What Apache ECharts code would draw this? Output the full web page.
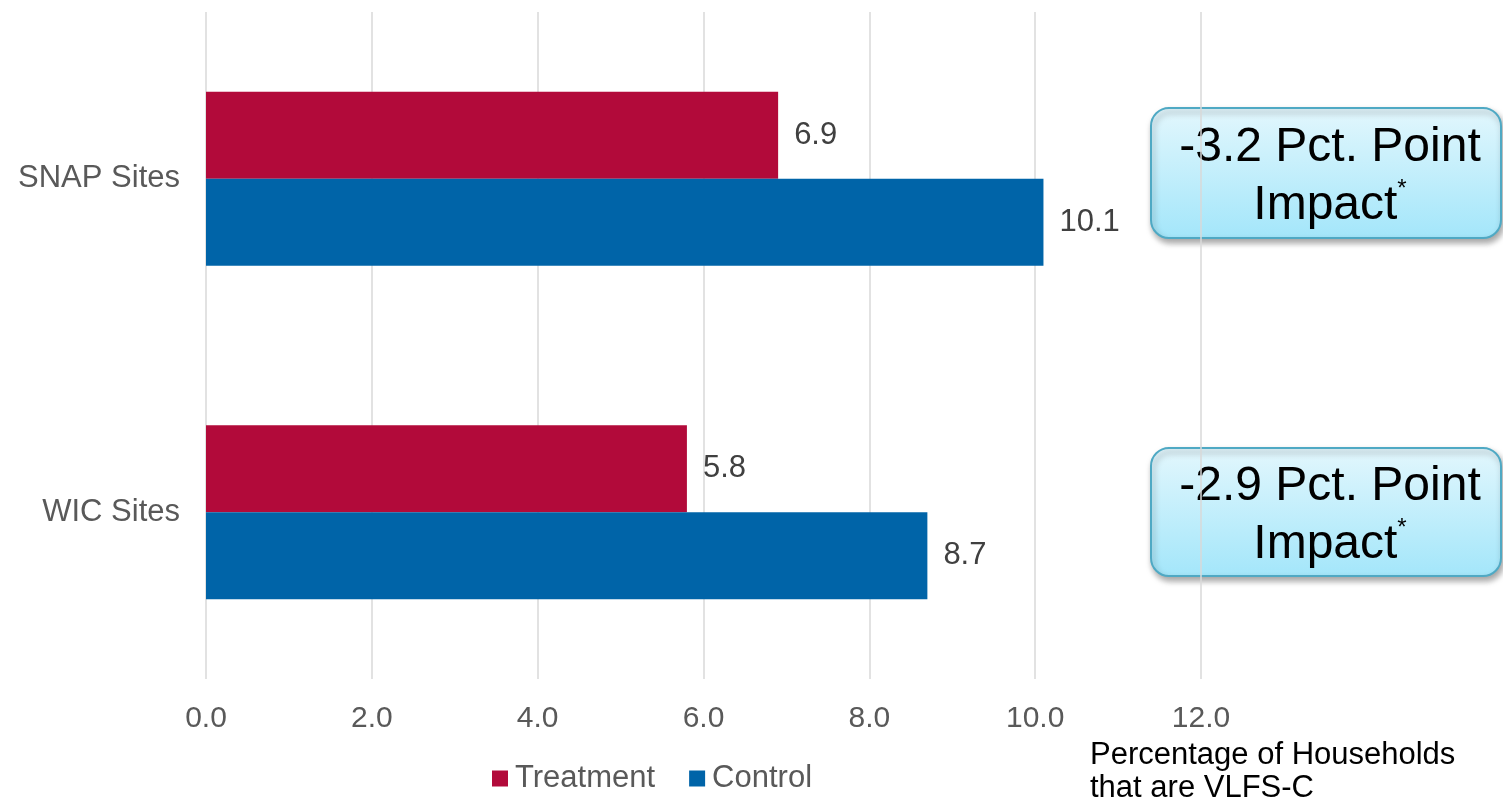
<!DOCTYPE html>
<html lang="en">
<head>
    <meta charset="UTF-8">
    <title>VLFS-C impact</title>
    <script src="https://cdn.jsdelivr.net/npm/echarts@6/dist/echarts.min.js"></script>
    <style>
        html, body { margin: 0; padding: 0; background: #fff; }
        #container { width: 1503px; height: 805px; }
    </style>
</head>
<body>
<div id="container"></div>
<script>
    var categories = ['SNAP Sites', 'WIC Sites'];
    var treatment = [6.9, 5.8];
    var control = [10.1, 8.7];
    var impacts = ['-3.2', '-2.9'];
    var xTicks = [0, 2, 4, 6, 8, 10, 12];

    var font = '"Liberation Sans", Arial, sans-serif';

    function callout(text, top, height) {
        return {
            type: 'group',
            left: 1150,
            top: top,
            children: [
                {
                    type: 'rect',
                    shape: { x: 0, y: 0, width: 350, height: height, r: 18 },
                    style: {
                        fill: new echarts.graphic.LinearGradient(0, 0, 0, 1, [
                            { offset: 0, color: '#e3f7fd' },
                            { offset: 1, color: '#a3e6fa' }
                        ]),
                        stroke: '#4fa9c4',
                        lineWidth: 2,
                        shadowBlur: 6,
                        shadowOffsetX: 2,
                        shadowOffsetY: 4,
                        shadowColor: 'rgba(0,0,0,0.35)'
                    }
                },
                {
                    type: 'text',
                    x: 179,
                    y: height / 2 + 4,
                    style: {
                        text: text + ' Pct. Point\n{m|Impact}{sup|*}',
                        fontFamily: font,
                        fontSize: 48,
                        lineHeight: 58,
                        fill: '#000',
                        align: 'center',
                        verticalAlign: 'middle',
                        rich: {
                            m: { fontSize: 48, fontFamily: font, color: '#000', lineHeight: 58 },
                            sup: { fontSize: 24, fontFamily: font, color: '#000', verticalAlign: 'top', lineHeight: 58 }
                        }
                    }
                }
            ]
        };
    }

    var myChart = echarts.init(document.getElementById('container'));
    myChart.setOption({
        animation: false,
        textStyle: { fontFamily: font },
        grid: { left: 206, right: 302, top: 12, bottom: 126 },
        legend: {
            left: 487,
            top: 758,
            itemWidth: 16,
            itemHeight: 16,
            itemGap: 34,
            icon: 'rect',
            textStyle: { fontSize: 31, color: '#595959', fontFamily: font, padding: [0, 0, 0, 2] },
            data: ['Treatment', 'Control']
        },
        xAxis: {
            type: 'value',
            min: xTicks[0],
            max: xTicks[xTicks.length - 1],
            interval: 2,
            axisLine: { show: false },
            axisTick: { show: false },
            axisLabel: {
                fontSize: 30,
                color: '#595959',
                margin: 25,
                formatter: function (v) { return v.toFixed(1); }
            },
            splitLine: { show: true, lineStyle: { color: '#d9d9d9', width: 1.5 } }
        },
        yAxis: {
            type: 'category',
            inverse: true,
            data: categories,
            axisLine: { show: false },
            axisTick: { show: false },
            axisLabel: { fontSize: 31, color: '#595959', margin: 26 }
        },
        series: [
            {
                name: 'Treatment',
                type: 'bar',
                data: treatment,
                barWidth: 87,
                barGap: '0%',
                itemStyle: { color: '#b20a3a' },
                label: { show: true, position: 'right', distance: 16, fontSize: 31, color: '#404040',
                    formatter: function (p) { return p.value.toFixed(1); } }
            },
            {
                name: 'Control',
                type: 'bar',
                data: control,
                barWidth: 87,
                barGap: '0%',
                itemStyle: { color: '#0064a8' },
                label: { show: true, position: 'right', distance: 16, fontSize: 31, color: '#404040',
                    formatter: function (p) { return p.value.toFixed(1); } }
            }
        ],
        graphic: [
            callout(impacts[0], 107, 130),
            callout(impacts[1], 447, 128),
            {
                type: 'text',
                left: 1090,
                top: 739,
                style: {
                    text: 'Percentage of Households\nthat are VLFS-C',
                    fontFamily: font,
                    fontSize: 31,
                    lineHeight: 33,
                    fill: '#000'
                }
            }
        ]
    });
</script>
</body>
</html>
